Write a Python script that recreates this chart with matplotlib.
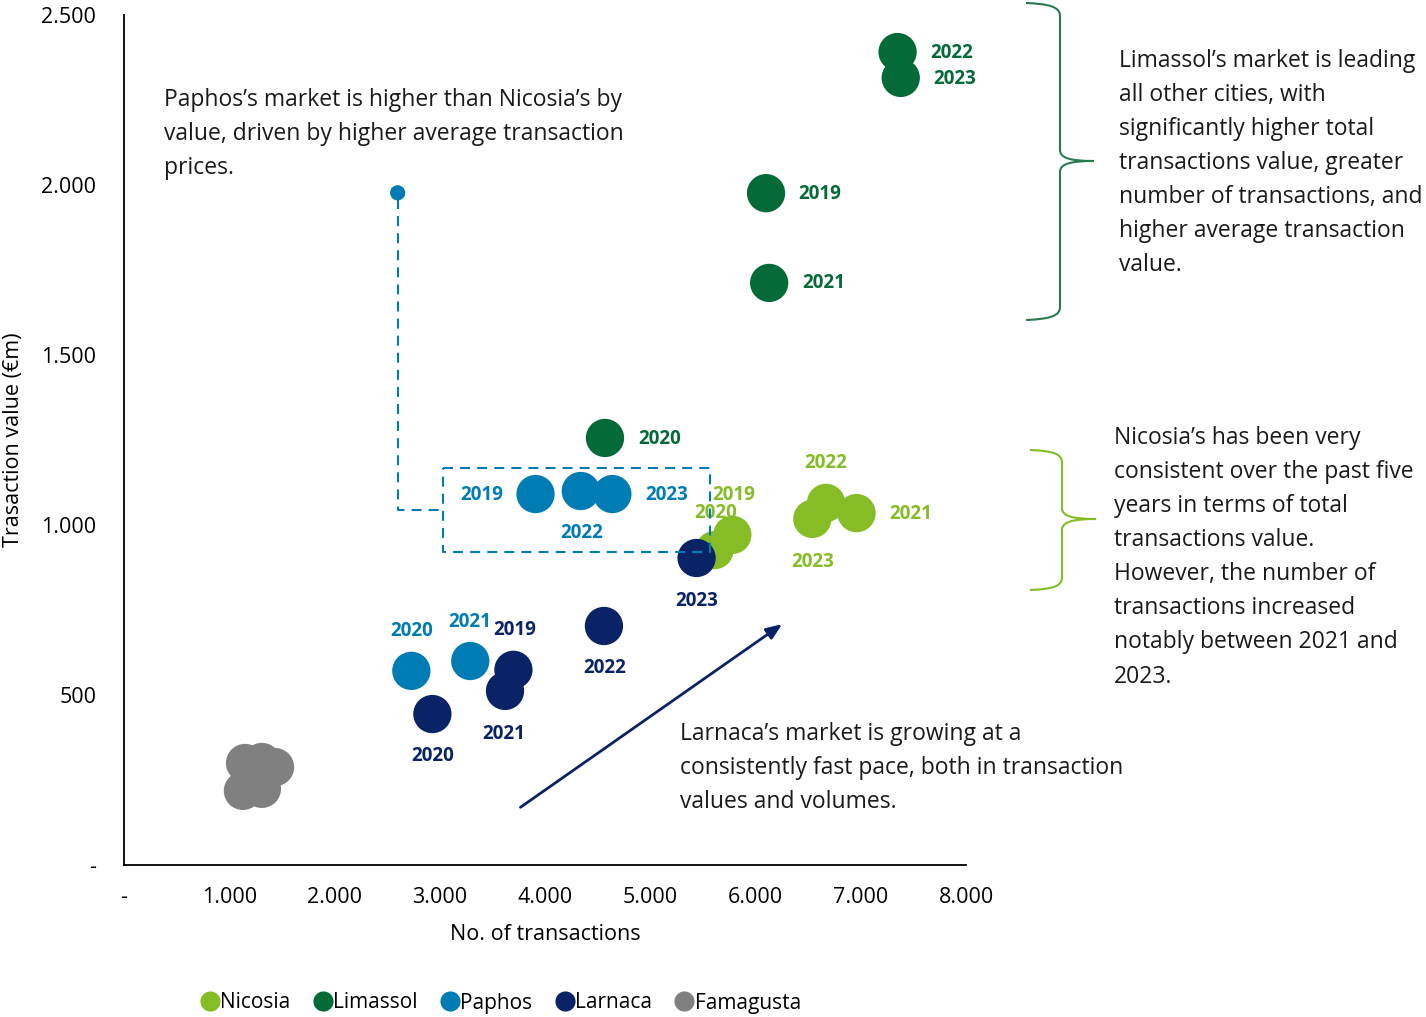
import matplotlib
matplotlib.use("Agg")
import matplotlib.pyplot as plt
from matplotlib.path import Path
from matplotlib.patches import PathPatch
from matplotlib.lines import Line2D

plt.rcParams['font.family'] = ['Open Sans', 'DejaVu Sans']

# ---------------- data ----------------
cities = ["Nicosia", "Limassol", "Paphos", "Larnaca", "Famagusta"]
colors = ["#86BC25", "#046A38", "#007CB5", "#0A2366", "#808080"]
years = ["2019", "2020", "2021", "2022", "2023"]

nicosia_tx = [5780, 5610, 6960, 6670, 6540]
nicosia_val = [971, 926, 1035, 1065, 1018]
limassol_tx = [6100, 4570, 6130, 7350, 7380]
limassol_val = [1976, 1256, 1712, 2391, 2315]
paphos_tx = [3910, 2730, 3290, 4340, 4640]
paphos_val = [1091, 571, 600, 1100, 1091]
larnaca_tx = [3700, 2930, 3620, 4560, 5440]
larnaca_val = [574, 444, 512, 703, 903]
famagusta_tx = [1150, 1310, 1435, 1130, 1310]
famagusta_val = [300, 303, 288, 218, 224]

x_ticks = [0, 1000, 2000, 3000, 4000, 5000, 6000, 7000, 8000]
x_ticklabels = ["-", "1.000", "2.000", "3.000", "4.000", "5.000", "6.000", "7.000", "8.000"]
y_ticks = [0, 500, 1000, 1500, 2000, 2500]
y_ticklabels = ["-", "500", "1.000", "1.500", "2.000", "2.500"]

# label offsets (pixels, right / up) for year labels
label_offsets = {
    "Nicosia": [(1, 40), (1, 37), (54, -1), (0, 40), (0, -43)],
    "Limassol": [(54, -1), (55, -1), (55, 0), (54, -1), (54, -1)],
    "Paphos": [(-54, -1), (0, 40), (-1, 39), (1, -42), (54, -1)],
    "Larnaca": [(1, 40), (0, -42), (-1, -43), (1, -42), (0, -43)],
}

series = {
    "Nicosia": (nicosia_tx, nicosia_val),
    "Limassol": (limassol_tx, limassol_val),
    "Paphos": (paphos_tx, paphos_val),
    "Larnaca": (larnaca_tx, larnaca_val),
    "Famagusta": (famagusta_tx, famagusta_val),
}

W, H = 1426, 1017
fig = plt.figure(figsize=(W / 100, H / 100), dpi=100)


def fx(px):
    return px / W


def fy(py):
    return 1 - py / H


ax = fig.add_axes([fx(124), fy(865), (966 - 124) / W, (865 - 15) / H])
ax.set_xlim(0, 8000)
ax.set_ylim(0, 2500)
for s in ["top", "right"]:
    ax.spines[s].set_visible(False)
for s in ["left", "bottom"]:
    ax.spines[s].set_linewidth(1.3)
    ax.spines[s].set_color("black")
ax.set_xticks(x_ticks)
ax.set_xticklabels(x_ticklabels)
ax.set_yticks(y_ticks)
ax.set_yticklabels(y_ticklabels)
ax.tick_params(axis="x", length=0, pad=16, labelsize=15.5)
ax.tick_params(axis="y", length=0, pad=20, labelsize=15.5)
ax.set_xlabel("No. of transactions", fontsize=15.5, labelpad=11)
ax.set_ylabel("Trasaction value (€m)", fontsize=15.5, labelpad=12)

pt = 0.72
for city, col in zip(cities, colors):
    xs, ys = series[city]
    ax.scatter(xs, ys, s=760, color=col, edgecolors="none", zorder=3)
    if city in label_offsets:
        for x, y, yr, off in zip(xs, ys, years, label_offsets[city]):
            ax.annotate(yr, (x, y), xytext=(off[0] * pt, off[1] * pt),
                        textcoords="offset points", ha="center", va="center",
                        fontsize=13.5, fontweight="bold", color=col, zorder=5)

# Paphos annotation: dot, dashed connector and dashed box
pcol = colors[2]
dash = (0, (4.8, 3.4))
ax.scatter([2600], [1977], s=120, color=pcol, edgecolors="none", zorder=4)
ax.plot([2600, 2600, 3030], [1960, 1044, 1044], color=pcol, lw=1.5,
        linestyle=dash, zorder=2)
ax.plot([3030, 5570, 5570, 3030, 3030], [1168, 1168, 921, 921, 1168],
        color=pcol, lw=1.5, linestyle=dash, zorder=6)

# Larnaca arrow
ax.annotate("", xy=(6275, 713), xytext=(3745, 165),
            arrowprops=dict(arrowstyle="-|>,head_length=0.95,head_width=0.38",
                            color=colors[3], lw=2))

# text blocks
txt_kw = dict(fontsize=16.5, color="#1a1a1a", va="top", ha="left", linespacing=1.56)
fig.text(fx(164), fy(88), "Paphos’s market is higher than Nicosia’s by\n"
         "value, driven by higher average transaction\nprices.", **txt_kw)
fig.text(fx(1119), fy(49), "Limassol’s market is leading\nall other cities, with\n"
         "significantly higher total\ntransactions value, greater\n"
         "number of transactions, and\nhigher average transaction\nvalue.", **txt_kw)
fig.text(fx(1114), fy(426), "Nicosia’s has been very\nconsistent over the past five\n"
         "years in terms of total\ntransactions value.\nHowever, the number of\n"
         "transactions increased\nnotably between 2021 and\n2023.", **txt_kw)
fig.text(fx(680), fy(722), "Larnaca’s market is growing at a\n"
         "consistently fast pace, both in transaction\nvalues and volumes.", **txt_kw)


# braces
def brace(x_left, x_mid, x_tip, y_top, y_tip, y_bot, color):
    pts = [(x_left, y_top), (x_left + 24, y_top + 1), (x_mid, y_top + 4), (x_mid, y_top + 13),
           (x_mid, y_tip - 11),
           (x_mid, y_tip - 3), (x_mid + 10, y_tip), (x_tip, y_tip),
           (x_mid + 10, y_tip), (x_mid, y_tip + 3), (x_mid, y_tip + 11),
           (x_mid, y_bot - 13),
           (x_mid, y_bot - 4), (x_left + 24, y_bot - 1), (x_left, y_bot)]
    codes = [Path.MOVETO, Path.CURVE4, Path.CURVE4, Path.CURVE4,
             Path.LINETO,
             Path.CURVE4, Path.CURVE4, Path.CURVE4,
             Path.CURVE4, Path.CURVE4, Path.CURVE4,
             Path.LINETO,
             Path.CURVE4, Path.CURVE4, Path.CURVE4]
    verts = [(fx(a), fy(b)) for a, b in pts]
    fig.add_artist(PathPatch(Path(verts, codes), fill=False, edgecolor=color,
                             lw=1.5, transform=fig.transFigure))


brace(1026, 1060, 1094, 3, 161, 320, "#2A7A50")
brace(1030, 1062, 1096, 450, 519, 590, colors[0])

# legend
handles = [Line2D([], [], marker="o", linestyle="none", markersize=14.5,
                  markerfacecolor=c, markeredgecolor="none") for c in colors]
fig.legend(handles, cities, loc="center", bbox_to_anchor=(fx(499), fy(1003)),
           ncol=5, frameon=False, fontsize=15, handletextpad=-0.1,
           columnspacing=0.95, handlelength=1.2, borderaxespad=0)

fig.savefig("out.png", dpi=100)
